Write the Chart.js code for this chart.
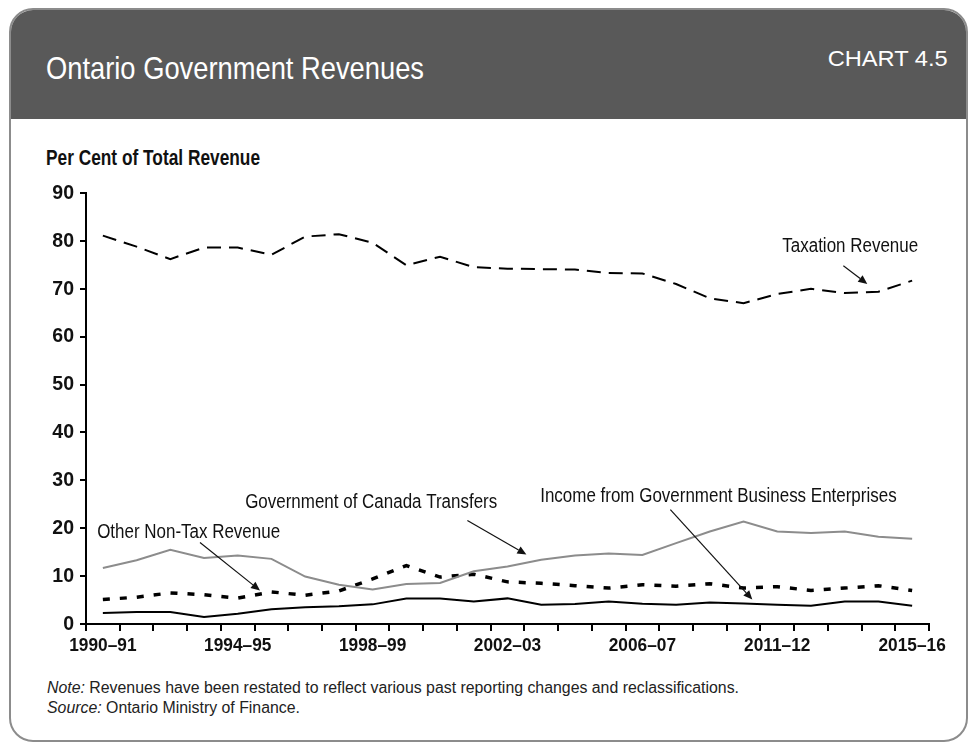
<!DOCTYPE html>
<html>
<head>
<meta charset="utf-8">
<script src="https://cdn.jsdelivr.net/npm/chart.js@4.4.1/dist/chart.umd.min.js"></script>
<style>
  html, body { margin: 0; padding: 0; background: #ffffff; }
  #page { position: relative; width: 977px; height: 745px; overflow: hidden; font-family: "Liberation Sans", Arial, sans-serif; }
  #frame { position: absolute; left: 9px; top: 8px; width: 955px; height: 730px; border: 2px solid #8c8c8c; border-radius: 24px; overflow: hidden; background: #fff; }
  #header { position: absolute; left: 0; top: 0; right: 0; height: 109px; background: #595959; }
  .fit { position: absolute; white-space: nowrap; transform-origin: left center; }
  #title { left: 46px; top: 49px; color: #fff; font-size: 32px; line-height: 38px; }
  #chartno { top: 46px; color: #fff; font-size: 22px; line-height: 26px; transform-origin: right center; }
  #ytitle { left: 46px; top: 144px; color: #111; font-size: 22px; font-weight: bold; line-height: 28px; }
  .note { left: 47px; color: #222; font-size: 16px; line-height: 18px; }
  #chartbox { position: absolute; left: 0; top: 0; width: 977px; height: 745px; }
</style>
</head>
<body>
<div id="page">
  <div id="frame"><div id="header"></div></div>
  <div id="title" class="fit" data-w="378">Ontario Government Revenues</div>
  <div id="chartno" class="fit" data-w="120" data-right="948">CHART 4.5</div>
  <div id="ytitle" class="fit" data-w="214">Per Cent of Total Revenue</div>
  <div id="note1" class="fit note" style="top:679px" data-w="692"><i>Note:</i> Revenues have been restated to reflect various past reporting changes and reclassifications.</div>
  <div id="note2" class="fit note" style="top:699px" data-same="note1"><i>Source:</i> Ontario Ministry of Finance.</div>
  <div id="chartbox"><canvas id="c" width="977" height="745"></canvas></div>
</div>
<script>
// ---- Data ----
const categories = [
  '1990–91','1991–92','1992–93','1993–94','1994–95','1995–96','1996–97','1997–98',
  '1998–99','1999–2000','2000–01','2001–02','2002–03','2003–04','2004–05','2005–06',
  '2006–07','2007–08','2008–09','2009–10','2011–12','2012–13','2013–14','2014–15','2015–16'
];
const tickLabels = ['1990–91','1994–95','1998–99','2002–03','2006–07','2011–12','2015–16'];
const yTickValues = [0,10,20,30,40,50,60,70,80,90];

const taxationRevenue = [81.1,78.8,76.2,78.6,78.6,77.1,80.9,81.4,79.6,74.9,76.7,74.5,74.2,74.1,74.0,73.3,73.2,71.0,68.0,67.0,68.9,70.0,69.1,69.4,71.7];
const otherNonTaxRevenue = [5.1,5.6,6.5,6.1,5.4,6.7,6.0,6.9,9.4,12.2,9.8,10.4,8.8,8.5,8.0,7.5,8.2,7.9,8.4,7.5,7.8,7.0,7.5,8.0,7.0];
const canadaTransfers = [11.7,13.3,15.5,13.8,14.3,13.6,9.9,8.2,7.2,8.35,8.55,11.0,12.0,13.4,14.3,14.7,14.4,16.9,19.3,21.4,19.3,19.0,19.3,18.2,17.8];
const businessEnterprises = [2.3,2.5,2.5,1.45,2.15,3.1,3.5,3.7,4.1,5.3,5.3,4.7,5.35,4.0,4.2,4.7,4.25,4.0,4.5,4.3,4.0,3.8,4.7,4.7,3.8];

// Annotation labels and arrows, in data space (category index, value)
const annotationLabels = ['Taxation Revenue','Government of Canada Transfers','Income from Government Business Enterprises','Other Non-Tax Revenue'];
const annotationAnchors = [[20.15,78.7],[4.22,25.3],[12.97,26.6],[-0.17,19.1]];
const arrowStarts = [[21.96,74.8],[10.81,21.6],[16.83,23.9],[2.88,17.0]];
const arrowEnds = [[22.67,71.0],[12.56,14.5],[19.26,5.1],[4.66,7.0]];

const FONT = '"Liberation Sans", Arial, sans-serif';

// Fit HTML texts to the condensed widths of the reference
function fitTexts() {
  const scales = {};
  document.querySelectorAll('.fit').forEach(el => {
    const w = el.getBoundingClientRect().width;
    let k = 1;
    if (el.dataset.w) k = parseFloat(el.dataset.w) / w;
    else if (el.dataset.same) k = scales[el.dataset.same] || 1;
    scales[el.id] = k;
    if (el.dataset.right) el.style.left = (parseFloat(el.dataset.right) - w) + 'px';
    el.style.transform = 'scaleX(' + k + ')';
  });
}

// Condensed canvas text (same glyphs, horizontally narrowed like the reference face)
const canvas = document.getElementById('c');
const ctx2d = canvas.getContext('2d');
const nativeFill = CanvasRenderingContext2D.prototype.fillText;
ctx2d.fillText = function (t, x, y) {
  const f = this.font;
  const k = f.indexOf('19.5px') >= 0 ? 0.87 : (f.indexOf('21px') >= 0 ? 0.93 : 0.91);
  this.save();
  this.translate(x, y);
  this.scale(k, 1);
  nativeFill.call(this, t, 0, 0);
  this.restore();
};

const annotationPlugin = {
  id: 'annotations',
  afterDatasetsDraw(chart) {
    const ctx = chart.ctx, xs = chart.scales.x, ys = chart.scales.y;
    const px = i => xs.left + (xs.right - xs.left) * (i + 0.5) / categories.length;
    ctx.save();
    ctx.fillStyle = '#111';
    ctx.font = '19.5px ' + FONT;
    ctx.textAlign = 'left';
    ctx.textBaseline = 'middle';
    annotationLabels.forEach((t, k) => {
      ctx.fillText(t, px(annotationAnchors[k][0]), ys.getPixelForValue(annotationAnchors[k][1]));
    });
    ctx.strokeStyle = '#111';
    ctx.lineWidth = 1.2;
    arrowStarts.forEach((s, k) => {
      const x1 = px(s[0]), y1 = ys.getPixelForValue(s[1]);
      const x2 = px(arrowEnds[k][0]), y2 = ys.getPixelForValue(arrowEnds[k][1]);
      const ang = Math.atan2(y2 - y1, x2 - x1);
      const hl = 9, hw = 4;
      const bx = x2 - hl * Math.cos(ang), by = y2 - hl * Math.sin(ang);
      ctx.beginPath(); ctx.moveTo(x1, y1); ctx.lineTo(bx, by); ctx.stroke();
      ctx.beginPath();
      ctx.moveTo(x2, y2);
      ctx.lineTo(bx + hw * Math.sin(ang), by - hw * Math.cos(ang));
      ctx.lineTo(bx - hw * Math.sin(ang), by + hw * Math.cos(ang));
      ctx.closePath(); ctx.fill();
    });
    ctx.restore();
  }
};

function build() {
  fitTexts();
  new Chart(canvas, {
    type: 'line',
    data: {
      labels: categories,
      datasets: [
        { label: 'Income from Government Business Enterprises', data: businessEnterprises, borderColor: '#000', borderWidth: 2, pointRadius: 0, tension: 0 },
        { label: 'Government of Canada Transfers', data: canadaTransfers, borderColor: '#8c8c8c', borderWidth: 2, pointRadius: 0, tension: 0 },
        { label: 'Other Non-Tax Revenue', data: otherNonTaxRevenue, borderColor: '#000', borderWidth: 3.5, borderDash: [7, 10], pointRadius: 0, tension: 0 },
        { label: 'Taxation Revenue', data: taxationRevenue, borderColor: '#000', borderWidth: 2, borderDash: [14, 8], pointRadius: 0, tension: 0 }
      ]
    },
    options: {
      responsive: false,
      animation: false,
      devicePixelRatio: 1,
      layout: { padding: { left: 44, right: 48, top: 193, bottom: 81 } },
      plugins: { legend: { display: false }, tooltip: { enabled: false }, title: { display: false } },
      scales: {
        x: {
          type: 'category',
          offset: true,
          afterFit(s) { s.height = 40; },
          grid: { offset: true, drawOnChartArea: false, drawTicks: true, tickLength: 7, color: '#000', lineWidth: 2 },
          border: { display: true, color: '#000', width: 2 },
          ticks: {
            autoSkip: false, maxRotation: 0, minRotation: 0, padding: 3, color: '#111',
            font: { family: FONT, size: 19, weight: 'bold' },
            callback(v, i) { const l = categories[i]; return tickLabels.includes(l) ? l : ''; }
          }
        },
        y: {
          min: 0, max: 90,
          afterFit(s) { s.width = 42; },
          afterBuildTicks(s) { s.ticks = yTickValues.map(v => ({ value: v })); },
          grid: { drawOnChartArea: false, drawTicks: true, tickLength: 6, color: '#000', lineWidth: 2 },
          border: { display: true, color: '#000', width: 2 },
          ticks: { padding: 6, color: '#111', font: { family: FONT, size: 21, weight: 'bold' } }
        }
      }
    },
    plugins: [annotationPlugin]
  });
}
if (document.fonts && document.fonts.ready) document.fonts.ready.then(build); else build();
</script>
</body>
</html>
